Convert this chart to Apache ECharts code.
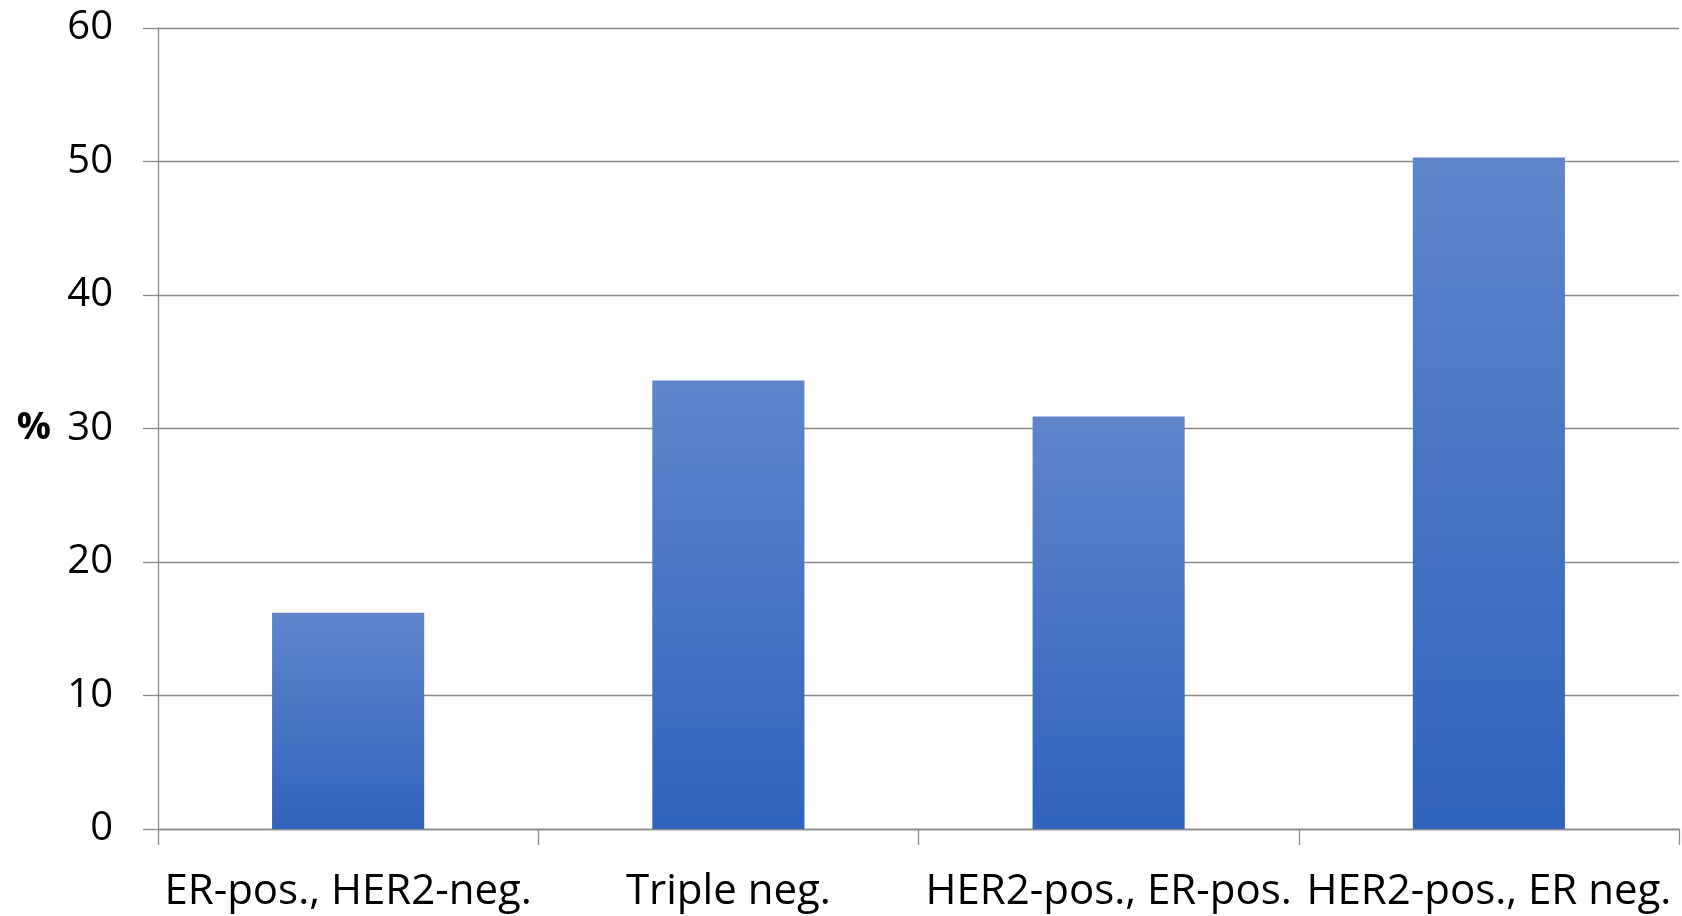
<!DOCTYPE html>
<html><head><meta charset="utf-8">
<script src="https://cdn.jsdelivr.net/npm/echarts@6/dist/echarts.min.js"></script>
<style>html,body{margin:0;padding:0;background:#fff}#c{width:1682px;height:916px}</style>
</head><body><div id="c"></div>
<script>
const categories = ["ER-pos., HER2-neg.", "Triple neg.", "HER2-pos., ER-pos.", "HER2-pos., ER neg."];
const values = [16.2, 33.6, 30.9, 50.3];
const yTicks = { min: 0, max: 60, interval: 10 };
const yName = "%";

const chart = echarts.init(document.getElementById('c'));
const gray = '#8c8c8c';
chart.setOption({
  animation: false,
  grid: { left: 158, right: 3, top: 28, bottom: 87, containLabel: false },
  xAxis: {
    type: 'category', data: categories,
    axisLine: { lineStyle: { color: gray, width: 1.3 } },
    axisTick: { show: true, length: 16, lineStyle: { color: gray, width: 1.3 } },
    axisLabel: { interval: 0, margin: 42, color: '#000', fontFamily: 'Open Sans', fontSize: 42 }
  },
  yAxis: {
    type: 'value', min: yTicks.min, max: yTicks.max, interval: yTicks.interval,
    name: yName, nameLocation: 'middle', nameRotate: 0, nameGap: 107,
    nameTextStyle: { color: '#000', fontFamily: 'Open Sans', fontSize: 38, fontWeight: 'bold', align: 'right', verticalAlign: 'middle' },
    axisLine: { show: true, lineStyle: { color: gray, width: 1.3 } },
    axisTick: { show: true, length: 15, lineStyle: { color: gray, width: 1.3 } },
    splitLine: { show: true, lineStyle: { color: gray, width: 1.3 } },
    axisLabel: { margin: 45, color: '#000', fontFamily: 'Open Sans', fontSize: 40 }
  },
  series: [{
    type: 'bar', data: values, barWidth: '40%',
    itemStyle: { color: new echarts.graphic.LinearGradient(0, 0, 0, 1, [
      { offset: 0, color: '#6085cb' }, { offset: 1, color: '#3063bc' }]) }
  }]
});
</script></body></html>
